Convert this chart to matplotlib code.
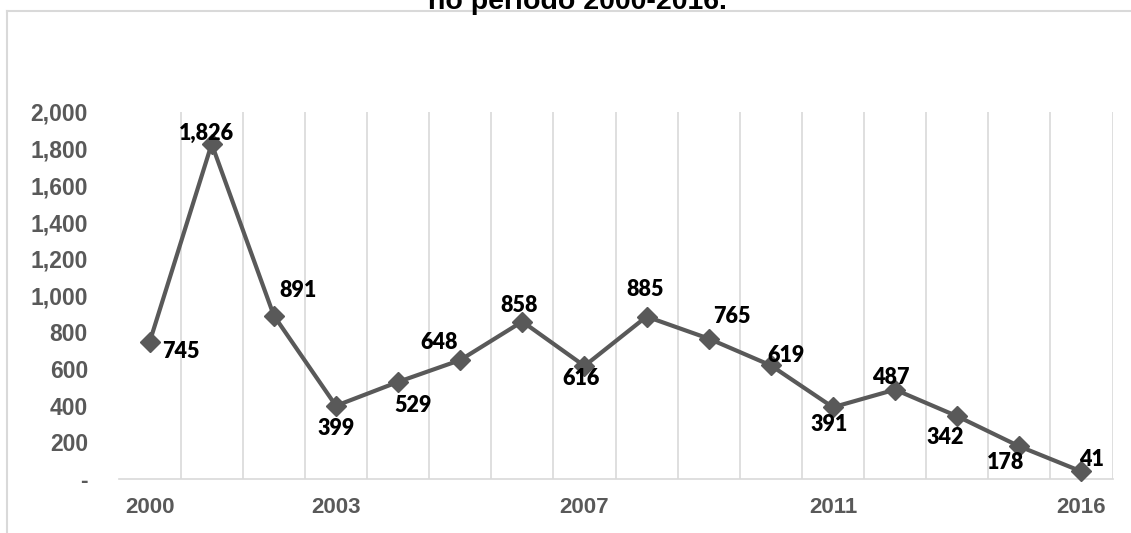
import numpy as np
import matplotlib
matplotlib.use("Agg")
import matplotlib.pyplot as plt
from matplotlib.ticker import FuncFormatter, MultipleLocator
from matplotlib.lines import Line2D

# data
years = ['2000', '', '', '2003', '', '', '', '2007', '', '', '', '2011', '', '', '', '2016']
values = [745, 1826, 891, 399, 529, 648, 858, 616, 885, 765, 619, 391, 487, 342, 178, 41]
title = "no período 2000-2016."

# label offsets (px, image coords: right / down) to mimic Excel placement
label_off = [(31, 9), (-5, -11), (24, -25), (0, 23), (15, 24), (-21, -18),
             (-3, -16), (-3, 13), (-1, -27), (23, -22), (15, -10), (-4, 17),
             (-4, -12), (-12, 21), (-14, 16), (10, -12)]

W, H = 1131, 533
grey = '#595959'
grid = '#d9d9d9'

fig = plt.figure(figsize=(W / 100, H / 100), dpi=100)
ax = fig.add_axes([118.5 / W, (H - 479) / H, (1112.5 - 118.5) / W, (479 - 112) / H])

x = np.arange(len(values))
ax.plot(x, values, color=grey, lw=3, marker='D', markersize=10,
        markerfacecolor=grey, markeredgecolor=grey, zorder=3, clip_on=False)

for xi, v, (dx, dy) in zip(x, values, label_off):
    ax.annotate(f"{v:,}", (xi, v), xytext=(dx * 0.72, -dy * 0.72),
                textcoords='offset points', ha='center', va='center',
                fontsize=15.5, fontweight='heavy', family='Lato', color='black',
                zorder=4)

ax.set_xlim(-0.5, len(values) - 0.5)
ax.set_ylim(0, 2000)
ax.yaxis.set_major_locator(MultipleLocator(200))
ax.yaxis.set_major_formatter(FuncFormatter(lambda v, p: '-' if v == 0 else f"{int(v):,}"))
ax.set_xticks(x)
ax.set_xticklabels(years)

# vertical gridlines on category boundaries
ax.set_xticks(np.arange(0.5, len(values), 1), minor=True)
ax.grid(which='minor', axis='x', color=grid, lw=1.2)
ax.tick_params(which='both', length=0)
ax.tick_params(axis='y', pad=22, labelsize=16.5, labelcolor=grey)
ax.tick_params(axis='x', pad=13, labelsize=16, labelcolor=grey)
for lab in ax.get_yticklabels() + ax.get_xticklabels():
    lab.set_fontweight('bold')
    lab.set_family('Liberation Sans')

for s in ['top', 'left', 'right']:
    ax.spines[s].set_visible(False)
ax.spines['bottom'].set_color(grid)
ax.spines['bottom'].set_linewidth(1.2)

# chart area border (left and top edges visible)
fig.add_artist(Line2D([7 / W, 7 / W], [0, (H - 11) / H], color=grid, lw=1.5))
fig.add_artist(Line2D([7 / W, 1], [(H - 11) / H, (H - 11) / H], color=grid, lw=1.5))

fig.text(577 / W, (H - 9) / H, title, ha='center', va='baseline',
         fontsize=20.5, fontweight='bold', family='Liberation Sans', color='black')

fig.savefig('out.png', dpi=100)
